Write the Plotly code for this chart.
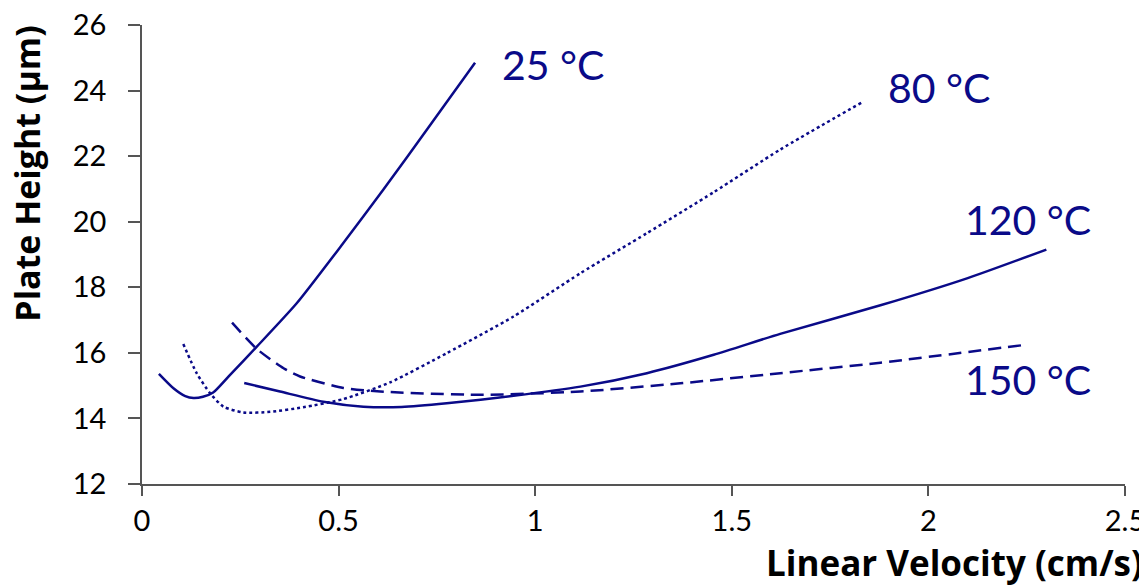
import plotly.graph_objects as go

x25 = [0.043, 0.08, 0.11, 0.131, 0.155, 0.181, 0.224, 0.292, 0.394, 0.512, 0.614, 0.733, 0.847]
y25 = [15.36, 14.92, 14.68, 14.62, 14.66, 14.79, 15.33, 16.19, 17.52, 19.35, 20.98, 22.95, 24.85]

x80 = [0.105, 0.139, 0.173, 0.207, 0.258, 0.326, 0.41, 0.512, 0.631, 0.775, 0.945, 1.115, 1.284, 1.454, 1.623, 1.831]
y80 = [16.27, 15.38, 14.77, 14.36, 14.18, 14.2, 14.34, 14.59, 15.1, 15.99, 17.11, 18.43, 19.65, 20.9, 22.2, 23.64]

x120 = [0.26, 0.351, 0.461, 0.563, 0.66, 0.775, 0.945, 1.115, 1.284, 1.454, 1.623, 1.878, 2.1, 2.30]
y120 = [15.08, 14.82, 14.51, 14.36, 14.35, 14.46, 14.69, 14.97, 15.38, 15.94, 16.58, 17.45, 18.28, 19.15]

x150 = [0.229, 0.292, 0.36, 0.402, 0.512, 0.606, 0.86, 1.115, 1.369, 1.623, 1.878, 2.25]
y150 = [16.92, 16.12, 15.53, 15.28, 14.93, 14.82, 14.72, 14.82, 15.07, 15.38, 15.7, 16.25]

labels = ["25 °C", "80 °C", "120 °C", "150 °C"]
label_x = [0.911, 1.891, 2.089, 2.089]
label_y = [24.79, 24.09, 20.06, 15.18]

navy = "#0a0a88"
font = "Lato"

fig = go.Figure()
series = [(x25, y25, "solid"), (x80, y80, "dot"), (x120, y120, "solid"), (x150, y150, "13px,7px")]
for (xs, ys, dash), name in zip(series, labels):
    fig.add_trace(go.Scatter(x=xs, y=ys, mode="lines", name=name,
                             line=dict(color=navy, width=2.5, dash=dash, shape="spline", smoothing=0.6)))

for t, lx, ly in zip(labels, label_x, label_y):
    fig.add_annotation(x=lx, y=ly, text=t, showarrow=False, xanchor="left", yanchor="middle",
                       font=dict(family=font, size=41, color=navy))

fig.add_annotation(x=1.0203, y=-0.226, xref="paper", yref="paper", text="<b>Linear Velocity (cm/s)</b>",
                   showarrow=False, xanchor="right", yanchor="bottom",
                   font=dict(family="Open Sans", size=35, color="black"))
fig.add_annotation(x=-0.117, y=0.676, xref="paper", yref="paper", text="<b>Plate Height (µm)</b>",
                   showarrow=False, textangle=-90, xanchor="center", yanchor="middle",
                   font=dict(family="Open Sans", size=34, color="black"))

fig.update_layout(
    width=1147, height=588,
    margin=dict(l=134, r=30, t=17, b=112),
    paper_bgcolor="white", plot_bgcolor="white",
    showlegend=False,
    font=dict(family=font, size=29, color="black"),
)
fig.update_xaxes(range=[0, 2.5], tickvals=[0, 0.5, 1, 1.5, 2, 2.5], ticktext=["0", "0.5", "1", "1.5", "2", "2.5"],
                 showgrid=False, zeroline=False, showline=True, linecolor="#555", linewidth=1.5,
                 ticks="outside", ticklen=10, tickwidth=1.5, tickcolor="#555", automargin=False,
                 ticklabeloverflow="allow")
fig.update_yaxes(range=[12, 26], tickvals=[12, 14, 16, 18, 20, 22, 24, 26],
                 showgrid=False, zeroline=False, showline=True, linecolor="#555", linewidth=1.5,
                 ticks="outside", ticklen=12, tickwidth=1.5, tickcolor="#555", automargin=False,
                 ticklabelstandoff=16, ticklabeloverflow="allow")

fig.write_html("out.html")
